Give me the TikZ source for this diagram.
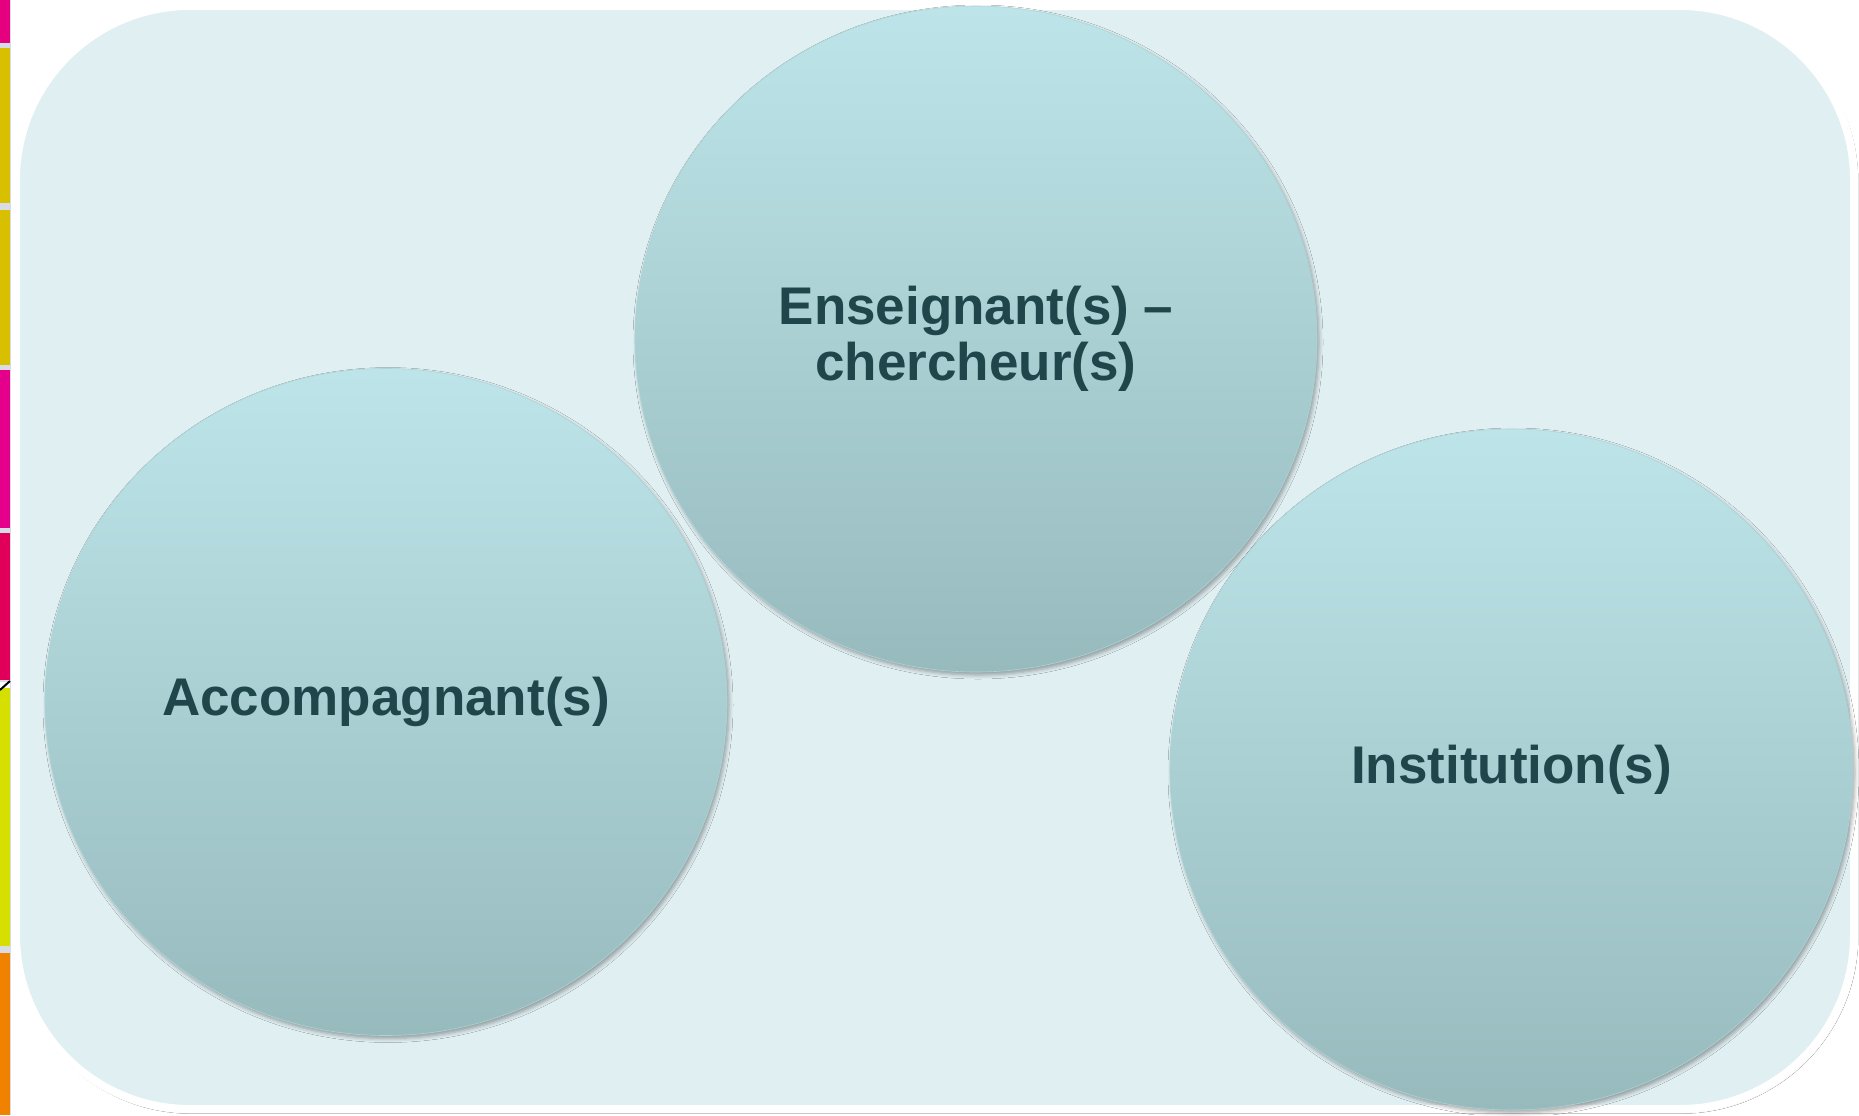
\documentclass[tikz,border=0pt]{standalone}
\usepackage{fontspec}
\setmainfont{Liberation Sans}
\usetikzlibrary{shapes.geometric,shadows.blur}
\definecolor{panelfill}{HTML}{E0EFF2}
\definecolor{ctop}{HTML}{BDE5E9}
\definecolor{cbot}{HTML}{97BABD}
\definecolor{ctext}{HTML}{1F464A}
\definecolor{smag}{HTML}{E5007F}
\definecolor{solive}{HTML}{D8BF00}
\definecolor{smag2}{HTML}{E4008A}
\definecolor{scrim}{HTML}{E0005A}
\definecolor{sygreen}{HTML}{D6E000}
\definecolor{sorange}{HTML}{F18200}
\definecolor{ssep}{HTML}{D8DCE4}
\tikzset{
  bubble/.style={ellipse, inner sep=0pt, top color=ctop, bottom color=cbot,
    draw=ctop!60!cbot, line width=0.3pt,
    blur shadow={shadow xshift=1pt, shadow yshift=-1.5pt, shadow blur radius=2pt, shadow opacity=35},
    font=\fontsize{26.5}{28}\selectfont\bfseries, text=ctext, align=center}
}
\begin{document}
\begin{tikzpicture}[x=0.5pt,y=-0.5pt]
\useasboundingbox (0,0) rectangle (1859,1115);
\fill[white] (0,0) rectangle (1859,1115);
% left colour strip
\fill[ssep] (0,0) rectangle (11,1115);
\fill[smag] (0,0) rectangle (10,43);
\fill[solive] (0,48) rectangle (10,203);
\fill[solive] (0,210) rectangle (10,365);
\fill[smag2] (0,370) rectangle (10,528);
\fill[scrim] (0,533) rectangle (10,680);
\fill[sygreen] (0,688) rectangle (10,946);
\fill[sorange] (0,953) rectangle (10,1115);
\fill[white] (0,682) rectangle (10,688);
\draw[black, line width=1pt] (0,690) -- (10,681);
% panel
\path[fill=panelfill, draw=white, line width=4pt, rounded corners=87pt,
  blur shadow={shadow xshift=0.6pt, shadow yshift=-0.8pt, shadow blur radius=1.5pt, shadow opacity=35}]
  (16,6) rectangle (1854,1109);
% bubbles
\node[bubble, minimum width=341pt, minimum height=333pt] (ens) at (976,339)
  {Enseignant(s) \textendash\\chercheur(s)};
\node[bubble, minimum width=341pt, minimum height=333.5pt] (acc) at (386,702)
  {Accompagnant(s)};
\node[bubble, minimum width=341.5pt, minimum height=340.5pt] (inst) at (1511.5,769.5)
  {Institution(s)};
\end{tikzpicture}
\end{document}
